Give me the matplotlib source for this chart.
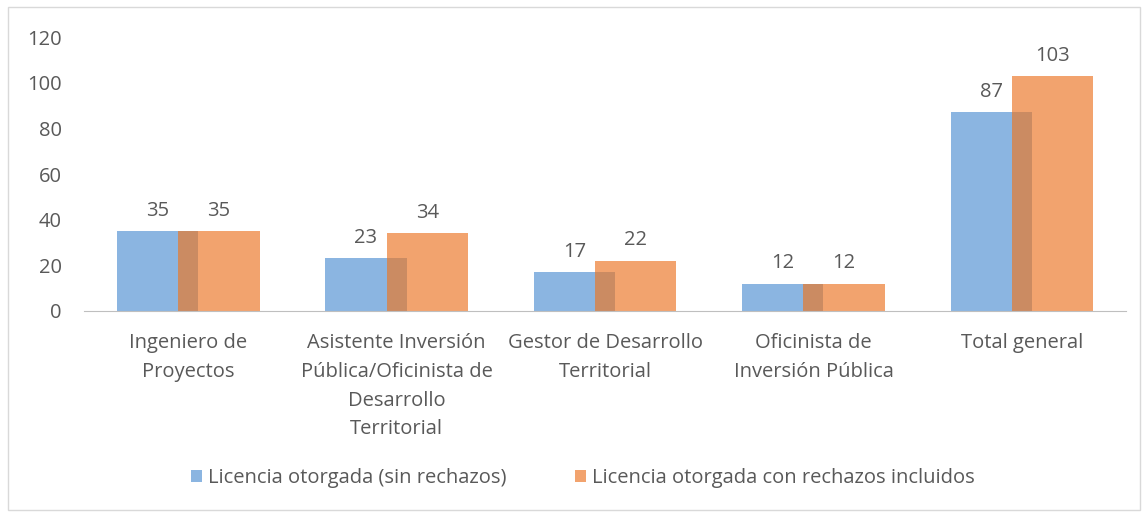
import numpy as np
import matplotlib
matplotlib.use("Agg")
import matplotlib.pyplot as plt
from matplotlib.patches import Rectangle

categories = ["Ingeniero de\nProyectos",
              "Asistente Inversión\nPública/Oficinista de\nDesarrollo\nTerritorial",
              "Gestor de Desarrollo\nTerritorial",
              "Oficinista de\nInversión Pública",
              "Total general"]
sin_rechazos = [35, 23, 17, 12, 87]
con_rechazos = [35, 34, 22, 12, 103]
series_names = ["Licencia otorgada (sin rechazos)",
                "Licencia otorgada con rechazos incluidos"]

blue = "#8BB5E1"
orange = "#F2A36E"
overlap = "#CB8B62"
txt = "#595959"
fs = 14.5

plt.rcParams["font.family"] = ["Open Sans", "DejaVu Sans"]

fig = plt.figure(figsize=(11.48, 5.12), dpi=100)
ax = fig.add_axes([0.0732, 0.3926, 0.9077, 0.5351])

x = np.arange(len(categories))
w = 0.39
off = 0.147
b1 = ax.bar(x - off, sin_rechazos, w, color=blue, label=series_names[0], zorder=2)
b2 = ax.bar(x + off, con_rechazos, w, color=orange, label=series_names[1], zorder=2)
# darker overlap zone where the two bars cross
ov_left = x + off - w / 2
ov_right = x - off + w / 2
ax.bar((ov_left + ov_right) / 2, np.minimum(sin_rechazos, con_rechazos),
       ov_right - ov_left, color=overlap, zorder=3)

for xi, v in zip(x - off, sin_rechazos):
    ax.text(xi, v + 4.5, str(v), ha="center", va="bottom", fontsize=fs, color=txt)
for xi, v in zip(x + off, con_rechazos):
    ax.text(xi, v + 4.5, str(v), ha="center", va="bottom", fontsize=fs, color=txt)

ax.set_xlim(-0.5, len(categories) - 0.5)
ax.set_ylim(0, 120)
ax.set_yticks(range(0, 121, 20))
ax.set_xticks(x)
ax.set_xticklabels(categories, fontsize=fs, color=txt, linespacing=1.58)
ax.tick_params(axis="y", length=0, labelsize=fs, labelcolor=txt, pad=16)
ax.tick_params(axis="x", length=0, pad=16)
for s in ["top", "right", "left"]:
    ax.spines[s].set_visible(False)
ax.spines["bottom"].set_color("#BFBFBF")
ax.spines["bottom"].set_zorder(4)

fig.legend(handles=[b1, b2], loc="center", bbox_to_anchor=(0.508, 0.066), ncol=2,
           frameon=False, fontsize=fs, handlelength=0.55, handleheight=0.55,
           handletextpad=0.3, columnspacing=3.4, labelcolor=txt)

fig.patches.append(Rectangle((0.007, 0.004), 0.986, 0.982, transform=fig.transFigure,
                             fill=False, edgecolor="#D9D9D9", linewidth=1))

fig.savefig("out.png", dpi=100)
